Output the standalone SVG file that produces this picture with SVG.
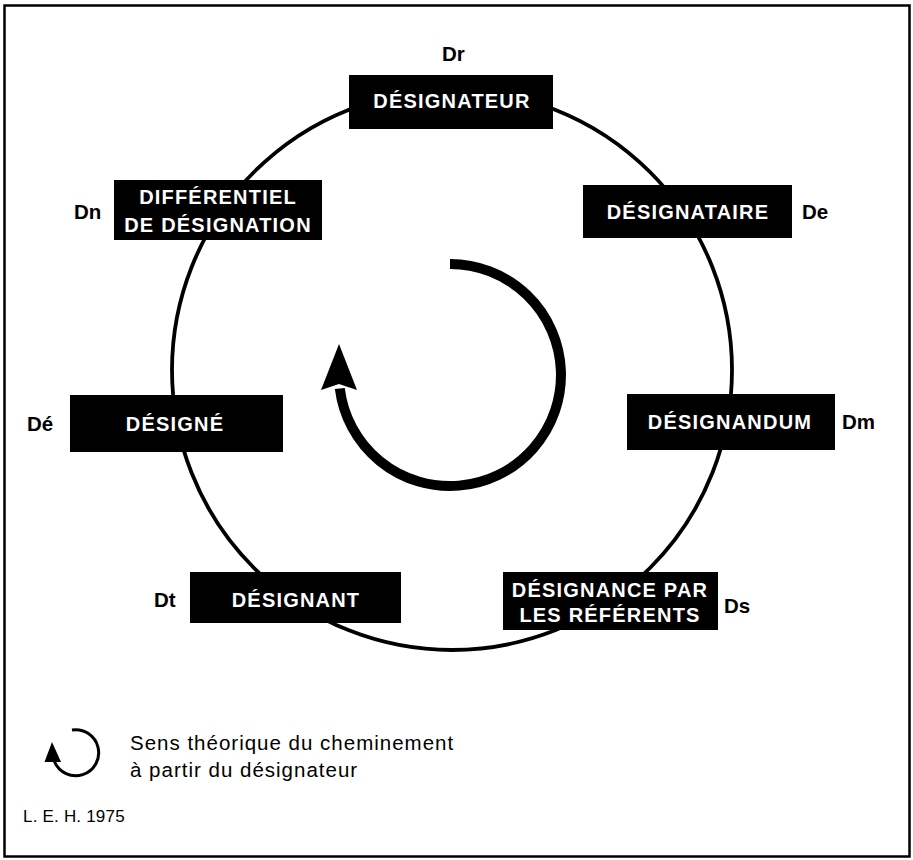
<svg xmlns="http://www.w3.org/2000/svg" width="913" height="860" viewBox="0 0 913 860">
<style>
.box{fill:#000}
.bt{font-family:"Liberation Sans",Arial,sans-serif;font-weight:bold;font-size:20px;fill:#fff;text-anchor:middle;letter-spacing:1.2px}
.lab{font-family:"Liberation Sans",Arial,sans-serif;font-weight:bold;font-size:20.5px;fill:#000}
.leg{font-family:"Liberation Sans",Arial,sans-serif;font-size:20.5px;fill:#000;letter-spacing:1px}
.ring{fill:none;stroke:#000;stroke-width:3.8}
</style>
<rect x="0" y="0" width="913" height="860" fill="#fff"/>
<rect x="4.5" y="5.5" width="905" height="851" fill="none" stroke="#000" stroke-width="2.5"/>
<g id="connectors">
<circle class="ring" cx="452" cy="370" r="280"/>
<path d="M 450 264 A 111 111 0 1 1 339.8 388.5" fill="none" stroke="#000" stroke-width="10"/>
<polygon points="339,344 321,390 339,384 357,390" fill="#000"/>
</g>
<g id="designateur">
<rect class="box" x="349" y="75" width="204" height="54"/>
<text class="bt" x="452" y="108">DÉSIGNATEUR</text>
<text class="lab" x="442" y="61">Dr</text>
</g>
<g id="differentiel">
<rect class="box" x="114" y="180" width="208" height="60"/>
<text class="bt" x="218" y="204">DIFFÉRENTIEL</text>
<text class="bt" x="218" y="232">DE DÉSIGNATION</text>
<text class="lab" x="74" y="219">Dn</text>
</g>
<g id="designataire">
<rect class="box" x="583" y="185" width="209" height="53"/>
<text class="bt" x="688" y="219">DÉSIGNATAIRE</text>
<text class="lab" x="802" y="219">De</text>
</g>
<g id="designe">
<rect class="box" x="70" y="395" width="213" height="57"/>
<text class="bt" x="175" y="431">DÉSIGNÉ</text>
<text class="lab" x="27" y="431">Dé</text>
</g>
<g id="designandum">
<rect class="box" x="627" y="394" width="208" height="56"/>
<text class="bt" x="730" y="429">DÉSIGNANDUM</text>
<text class="lab" x="842" y="429">Dm</text>
</g>
<g id="designant">
<rect class="box" x="190" y="572" width="211" height="51"/>
<text class="bt" x="296" y="607">DÉSIGNANT</text>
<text class="lab" x="154" y="607">Dt</text>
</g>
<g id="designance">
<rect class="box" x="503" y="572" width="215" height="58"/>
<text class="bt" x="610" y="597">DÉSIGNANCE PAR</text>
<text class="bt" x="610" y="622">LES RÉFÉRENTS</text>
<text class="lab" x="724" y="613">Ds</text>
</g>
<g id="legend">
<path d="M 72 730 A 23 23 0 1 1 54.4 761.5" fill="none" stroke="#000" stroke-width="3"/>
<polygon points="52,742 44.5,762 61,762" fill="#000"/>
<text class="leg" x="130" y="750">Sens théorique du cheminement</text>
<text class="leg" x="130" y="777">à partir du désignateur</text>
<text class="leg" x="23" y="822" style="font-size:17px;letter-spacing:0.2px">L. E. H. 1975</text>
</g>
</svg>
